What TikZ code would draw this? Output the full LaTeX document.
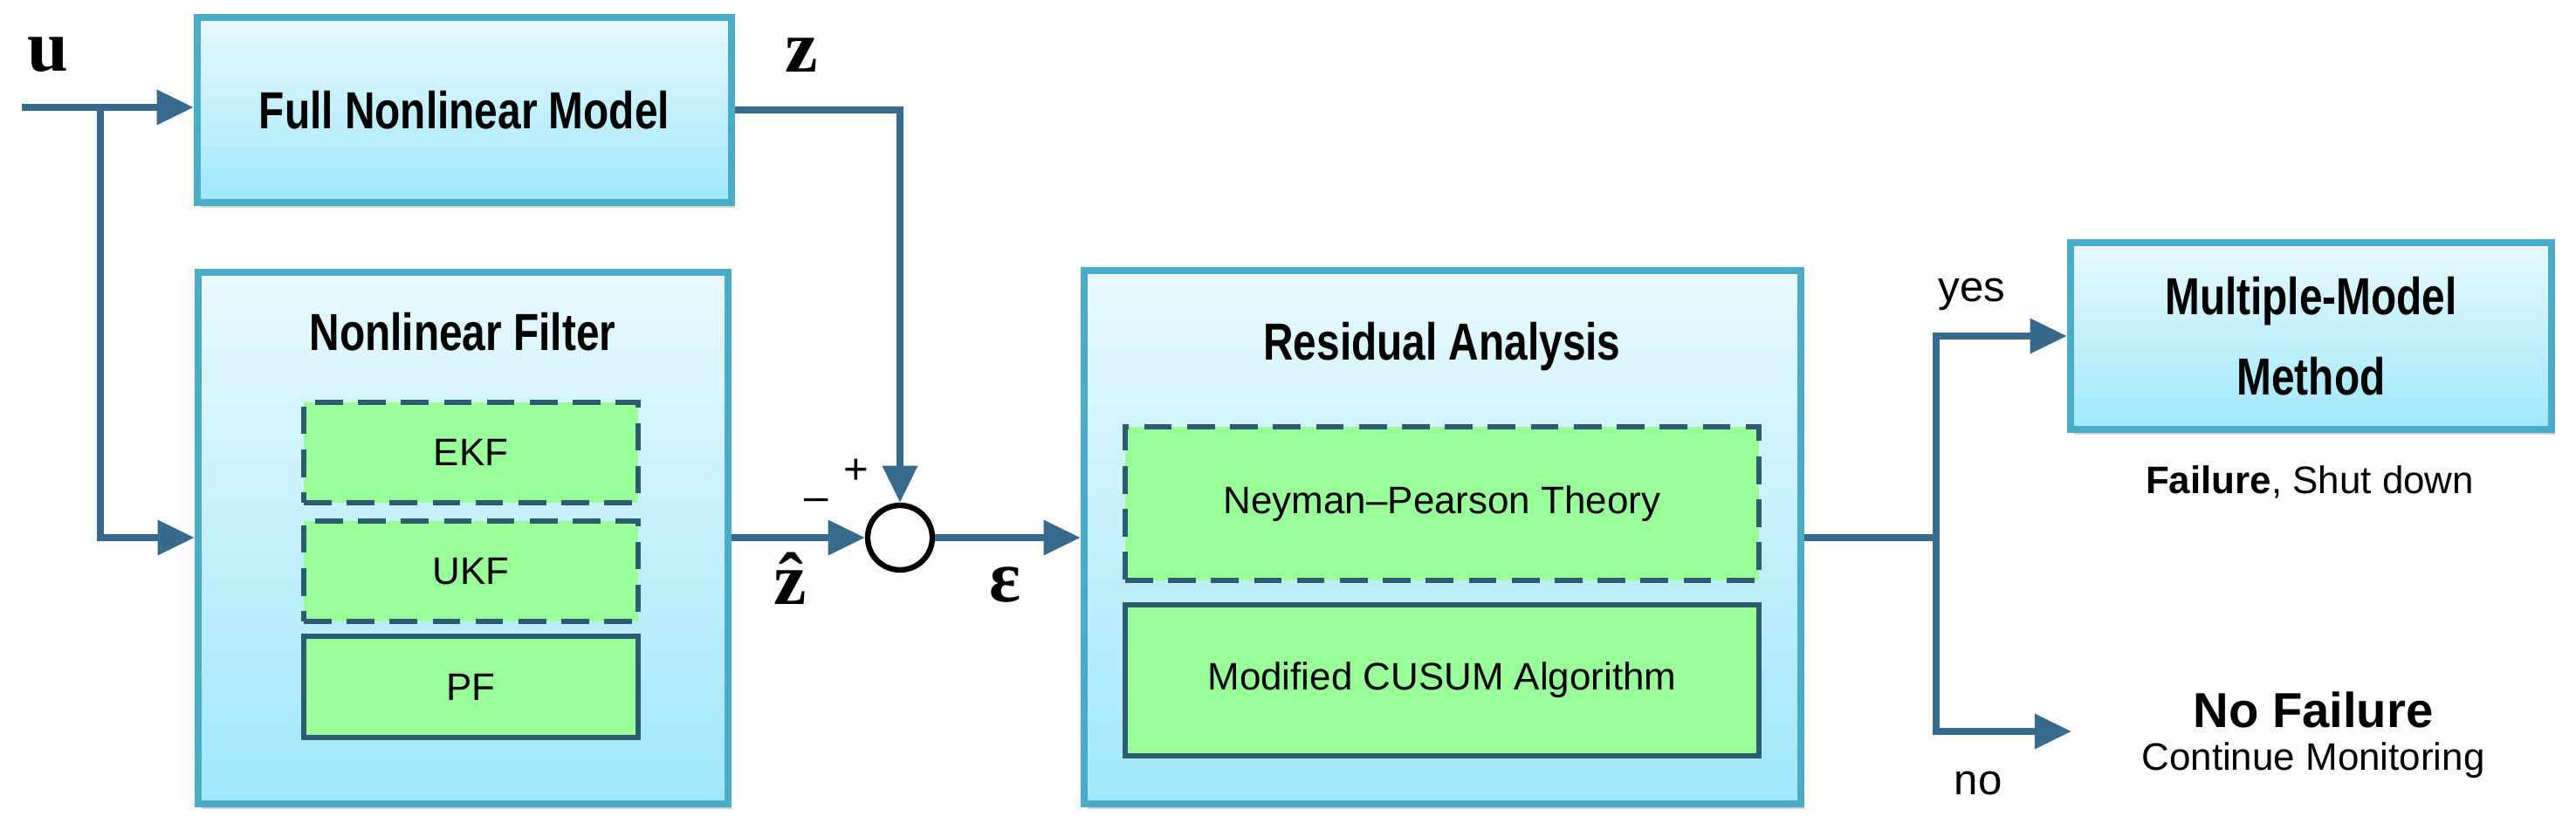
\documentclass[tikz,border=0pt]{standalone}
\usepackage{amsmath, amssymb}
\usepackage{fontspec}
\setmainfont{Liberation Sans}
\newfontfamily\narrowbf{Liberation Sans}[FakeStretch=0.8]
\newfontfamily\symserif{Liberation Serif}
\usetikzlibrary{positioning}
\usetikzlibrary{shapes}
\usetikzlibrary{calc}
\usetikzlibrary{arrows.meta}
\usetikzlibrary{shadows}
\definecolor{boxline}{HTML}{4BACC6}
\definecolor{boxtop}{HTML}{E8F9FE}
\definecolor{boxbot}{HTML}{A0E7FB}
\definecolor{subfill}{HTML}{99FF99}
\definecolor{subline}{HTML}{2D5B70}
\definecolor{wire}{HTML}{386A8E}
\begin{document}
\begin{tikzpicture}[
    blk/.style={draw=boxline, line width=2.4pt, top color=boxtop, bottom color=boxbot, drop shadow={opacity=0.35, shadow xshift=0.04cm, shadow yshift=-0.06cm}, font=\narrowbf\fontsize{17}{20}\bfseries\selectfont, align=center, inner sep=0pt},
    sub/.style={draw=subline, line width=1.6pt, fill=subfill, font=\fontsize{12.5}{15}\selectfont, inner sep=0pt},
    subd/.style={sub, dash pattern=on 9pt off 5pt},
    wr/.style={draw=wire, line width=2.2pt},
    ar/.style={wr, -{Triangle[length=12pt, width=11pt]}},
    sym/.style={font=\symserif\bfseries\fontsize{24}{26}\selectfont},
    lbl/.style={font=\fontsize{14}{17}\selectfont}
    ]
\useasboundingbox (0,0) rectangle (29.51,9.58);
% left blocks
\node[blk, minimum width=6.12cm, minimum height=2.12cm] at (5.32,8.32) (model) {Full Nonlinear Model};
\node[blk, minimum width=6.07cm, minimum height=6.09cm] at (5.305,3.415) (filt) {};
\node[font=\narrowbf\fontsize{17}{20}\bfseries\selectfont] at (5.30,5.78) (filtT) {Nonlinear Filter};
\node[subd, minimum width=3.83cm, minimum height=1.15cm] at (5.395,4.395) (ekf) {EKF};
\node[subd, minimum width=3.83cm, minimum height=1.15cm] at (5.395,3.035) (ukf) {UKF};
\node[sub, minimum width=3.83cm, minimum height=1.16cm] at (5.395,1.71) (pf) {PF};
% summing junction
\node[circle, draw=black, line width=1.8pt, minimum size=0.74cm, inner sep=0pt, fill=white] at (10.31,3.42) (sum) {};
\node[font=\fontsize{14}{17}\selectfont] at (9.35,3.80) (minus) {\textendash};
\node[font=\fontsize{14}{17}\selectfont] at (9.81,4.18) (plus) {+};
% residual analysis
\node[blk, minimum width=8.21cm, minimum height=6.11cm] at (16.525,3.425) (resid) {};
\node[font=\narrowbf\fontsize{17}{20}\bfseries\selectfont] at (16.52,5.61) (residT) {Residual Analysis};
\node[subd, minimum width=7.26cm, minimum height=1.76cm] at (16.52,3.81) (np) {Neyman--Pearson Theory};
\node[sub, minimum width=7.26cm, minimum height=1.73cm] at (16.52,1.785) (cusum) {Modified CUSUM Algorithm};
% outcomes
\node[blk, minimum width=5.51cm, minimum height=2.14cm] at (26.475,5.73) (mm) {Multiple-Model\\[6pt]Method};
\node[font=\fontsize{12.5}{15}\selectfont] at (26.46,4.06) (fail) {\textbf{Failure}, Shut down};
\node[align=center] at (26.5,1.16) (nofail) {{\fontsize{16}{19}\bfseries\selectfont No Failure}\\[2pt]{\fontsize{12.5}{15}\selectfont Continue Monitoring}};
% signal labels
\node[sym] at (0.55,8.95) (uL) {u};
\node[sym] at (9.18,8.95) (zL) {z};
\node[sym] at (9.05,2.95) (zhL) {ẑ};
\node[sym] at (11.52,2.88) (epsL) {ε};
\node[lbl] at (22.59,6.21) (yesL) {yes};
\node[lbl] at (22.66,0.61) (noL) {no};
% connectors
\coordinate (uin) at (0.25,8.35);
\coordinate (ubr) at (1.15,8.35);
\coordinate (obr) at (22.18,3.42);
\coordinate (noend) at (23.73,1.20);
\draw[ar] (uin) -- (model.west |- uin);
\draw[ar] (ubr) |- (filt.west |- sum);
\draw[ar] (model.east) -| (sum.north);
\draw[ar] (filt.east |- sum) -- (sum.west);
\draw[ar] (sum.east) -- (resid.west |- sum);
\draw[wr] (resid.east |- sum) -- (obr);
\draw[ar] (obr) |- (mm.west);
\draw[ar] (obr) |- (noend);
\end{tikzpicture}
\end{document}
